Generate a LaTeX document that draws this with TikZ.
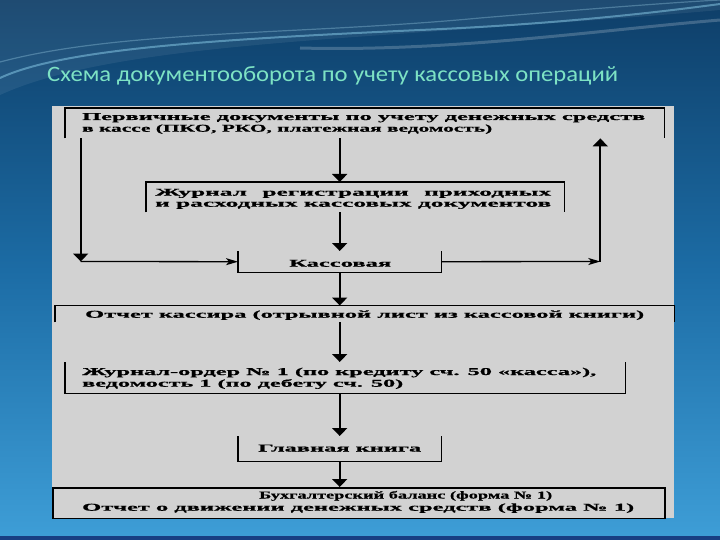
\documentclass[tikz,border=0pt]{standalone}
\usepackage{fontspec}
\setmainfont{Liberation Serif}[BoldFeatures={FakeBold=0.6}]
\newfontfamily\titlefont{Carlito}
\usetikzlibrary{arrows.meta}
\definecolor{panelgray}{RGB}{210,210,210}
\definecolor{titlecol}{RGB}{125,226,196}
\definecolor{bgtop}{RGB}{14,62,104}
\definecolor{bgmid}{RGB}{28,108,165}
\definecolor{bgbot}{RGB}{62,158,215}
\newcommand{\fitw}[2]{\resizebox{#1}{\height}{#2}}
\newlength\jw
\begin{document}
\settowidth{\jw}{\fontsize{10.5}{12}\selectfont\bfseries и расходных кассовых документов}%
\begin{tikzpicture}[x=1pt,y=-1pt,
  boxline/.style={line width=1.5pt},
  txt/.style={inner sep=0pt, anchor=base west, font=\fontsize{10.5}{12}\selectfont\bfseries},
  frame/.style={inner sep=0pt, draw=none, anchor=north west},
  conn/.style={line width=1.7pt, -{Triangle[width=15pt,length=8pt]}},
  side/.style={line width=1.3pt, -{Stealth[width=7pt,length=12pt,inset=3pt]}},
]
\useasboundingbox (0,0) rectangle (720,540);
% background
\shade[top color=bgtop, bottom color=bgbot, middle color=bgmid] (0,0) rectangle (720,540);
\fill[white, opacity=0.07] (0,95) .. controls (120,40) and (380,40) .. (720,10) -- (720,0) -- (0,0) -- cycle;
\draw[cyan!40!white, opacity=0.45, line width=2pt] (0,78) .. controls (60,50) and (200,40) .. (420,30) .. controls (560,24) and (660,12) .. (720,4);
\draw[cyan!30!white, opacity=0.3, line width=1.2pt] (0,62) .. controls (120,30) and (300,35) .. (480,18) .. controls (600,8) and (680,2) .. (720,0);
\draw[white, opacity=0.2, line width=3pt] (300,48) .. controls (450,52) and (600,30) .. (720,20);
\fill[black!70!blue, opacity=0.6] (0,536) rectangle (720,540);
% title
\node[anchor=base west, inner sep=0pt, text=titlecol, font=\titlefont\fontsize{22}{26}\selectfont] (title) at (47,82) {\fitw{571pt}{Схема документооборота по учету кассовых операций}};
% panel
\node[fill=panelgray, inner sep=0pt, minimum width=622pt, minimum height=412pt, anchor=north west] (panel) at (52,106) {};
% box 1
\node[frame, minimum width=599pt, minimum height=30pt] (b1) at (65,108) {};
\draw[boxline] (b1.south west) -- (b1.north west) -- (b1.north east) -- (b1.south east);
\node[txt] (b1a) at (82,120) {\fitw{563pt}{Первичные документы по учету денежных средств}};
\node[txt] (b1b) at (82,131.7) {\fitw{410pt}{в кассе (ПКО, РКО, платежная ведомость)}};
% box 2
\node[frame, minimum width=418pt, minimum height=30pt] (b2) at (146,182) {};
\draw[boxline] (b2.south west) -- (b2.north west) -- (b2.north east) -- (b2.south east);
\node[txt] (b2a) at (155,195.7) {\fitw{396pt}{\makebox[\jw][s]{Журнал\hfill регистрации\hfill приходных}}};
\node[txt] (b2b) at (155,206.7) {\fitw{396pt}{и расходных кассовых документов}};
% kassovaya
\node[frame, minimum width=203pt, minimum height=21pt] (k) at (238,251) {};
\draw[boxline] (k.north west) -- (k.south west) -- (k.south east) -- (k.north east);
\node[txt] (ka) at (289,266.7) {\fitw{102pt}{Кассовая}};
% box 3
\node[frame, minimum width=619pt, minimum height=16.5pt] (b3) at (55,305.5) {};
\draw[boxline] (b3.south west) -- (b3.north west) -- (b3.north east) -- (b3.south east);
\node[txt] (b3a) at (85,317.7) {\fitw{559pt}{Отчет кассира (отрывной лист из кассовой книги)}};
% box 4
\node[frame, minimum width=560pt, minimum height=31pt] (b4) at (65,362) {};
\draw[boxline] (b4.north west) -- (b4.south west) -- (b4.south east) -- (b4.north east);
\node[txt] (b4a) at (82,375) {\fitw{514pt}{Журнал-ордер № 1 (по кредиту сч. 50 «касса»),}};
\node[txt] (b4b) at (82,386.7) {\fitw{321pt}{ведомость 1 (по дебету сч. 50)}};
% glavnaya kniga
\node[frame, minimum width=203pt, minimum height=25pt] (g) at (238,436) {};
\draw[boxline] (g.north west) -- (g.south west) -- (g.south east) -- (g.north east);
\node[txt] (ga) at (258,451.5) {\fitw{163pt}{Главная книга}};
% box 6
\node[frame, draw, boxline, minimum width=612pt, minimum height=30.5pt] (b6) at (52,487) {};
\node[txt] (b6a) at (259,498.5) {\fitw{293pt}{Бухгалтерский баланс (форма № 1)}};
\node[txt] (b6b) at (82,510.7) {\fitw{552pt}{Отчет о движении денежных средств (форма № 1)}};
% connectors
\draw[conn] (b1.south -| k.north) -- (b2.north -| k.north);
\draw[conn] (b2.south -| k.north) -- (k.north);
\draw[conn] (k.south) -- (b3.north -| k.south);
\draw[conn] (b3.south -| k.south) -- (b4.north -| k.south);
\draw[conn] (b4.south -| g.north) -- (g.north);
\draw[conn] (g.south) -- (b6.north -| g.south);
\coordinate (lc) at (80.7,261.5);
\coordinate (rc) at (600.3,261.5);
\draw[conn] (b1.south -| lc) -- (lc);
\draw[side] (lc) -- (k.west);
\draw[side] (k.east) -- (rc);
\draw[conn] (rc) -- (b1.south -| rc);
\end{tikzpicture}
\end{document}
